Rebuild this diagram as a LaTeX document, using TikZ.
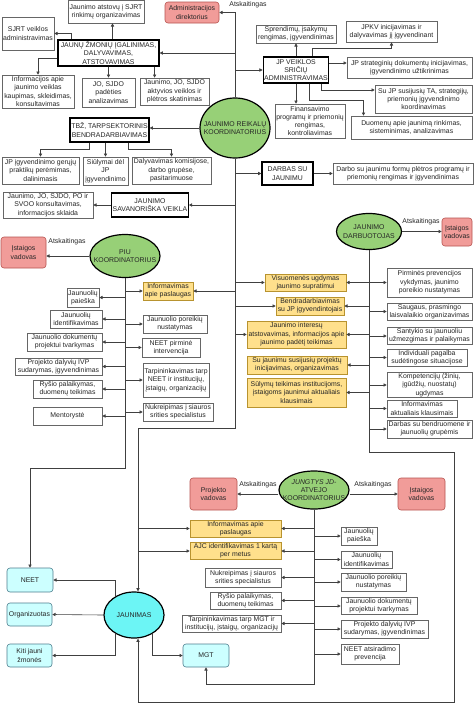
\documentclass[tikz,border=0pt]{standalone}
\usepackage{fontspec}
\setmainfont{Liberation Sans}
\usetikzlibrary{shapes.geometric,arrows.meta,calc}
\definecolor{grnF}{HTML}{97D077}
\definecolor{yelF}{HTML}{FFE08C}
\definecolor{yelB}{HTML}{B8932F}
\definecolor{pinkF}{HTML}{F19C99}
\definecolor{pinkB}{HTML}{B85450}
\definecolor{cyF}{HTML}{CCFFFF}
\definecolor{cyB}{HTML}{4F7F8F}
\definecolor{cyE}{HTML}{6CF5F5}
\newcommand{\bxn}[7]{\node[#1, minimum width={(#4)-(#3)}, minimum height={(#6)-(#5)}] (#2) at ({((#3)+(#4))/2},{((#5)+(#6))/2}) {#7};}
\newcommand{\eln}[6]{\node[#1, minimum width=#4, minimum height=#5, label={[lbl]center:{#6}}] (#2) at (#3) {};}
\tikzset{
 base/.style={font=\fontsize{6.9}{8.3}\selectfont, align=center, inner sep=1pt, text=black!85},
 wb/.style={base, draw=black!60, fill=white, line width=0.6pt},
 tb/.style={base, draw=black, fill=white, line width=1.2pt},
 yb/.style={base, draw=yelB, fill=yelF, line width=0.6pt},
 pb/.style={base, draw=pinkB, fill=pinkF, rounded corners=3pt, line width=0.6pt},
 cb/.style={base, draw=cyB, fill=cyF, rounded corners=3pt, line width=0.6pt},
 ge/.style={ellipse, draw=black, fill=grnF, line width=1.2pt, inner sep=0pt},
 ce/.style={ellipse, draw=black, fill=cyE, line width=1.2pt, inner sep=0pt},
 lbl/.style={base, inner sep=0pt},
 arr/.style={draw=black!75, line width=0.6pt, -{Triangle[length=3.2pt,width=3.2pt]}},
}
\begin{document}
\begin{tikzpicture}[x=1pt,y=-1pt]
\useasboundingbox[fill=white] (0,0) rectangle (474,707);
% ---------- top left
\bxn{wb}{n_atst}{68}{144}{0.5}{23}{Jaunimo atstovų į SJRT\\rinkimų organizavimas}
\bxn{pb}{n_adm}{165}{219}{2}{23}{Administracijos\\direktorius}
\bxn{wb}{n_sjrt}{2}{54}{17}{50}{SJRT veiklos\\administravimas}
\bxn{tb}{n_jz}{58}{159}{40}{66}{JAUNŲ ŽMONIŲ ĮGALINIMAS,\\DALYVAVIMAS,\\ATSTOVAVIMAS}
\bxn{wb}{n_info}{2}{74}{75}{108}{Informacijos apie\\jaunimo veiklas\\kaupimas, skleidimas,\\konsultavimas}
\bxn{wb}{n_jo}{82}{135}{78}{107}{JO, SJDO\\padėties\\analizavimas}
\bxn{wb}{n_akt}{140}{209}{78}{105}{Jaunimo, JO, SJDO\\aktyvios veiklos ir\\plėtros skatinimas}
% ---------- top right
\bxn{wb}{n_spr}{256}{336}{25}{43}{Sprendimų, įsakymų\\rengimas, įgyvendinimas}
\bxn{wb}{n_jpkv}{346}{437}{21}{42}{JPKV inicijavimas ir\\dalyvavimas jį įgyvendinant}
\bxn{tb}{n_jpv}{264}{328}{57}{83}{JP VEIKLOS\\SRIČIŲ\\ADMINISTRAVIMAS}
\bxn{wb}{n_str}{347}{472}{57}{78}{JP strateginių dokumentų inicijavimas,\\įgyvendinimo užtikrinimas}
\bxn{wb}{n_ta}{375}{472}{85}{113}{Su JP susijusių TA, strategijų,\\priemonių įgyvendinimo\\koordinavimas}
\bxn{wb}{n_fin}{275}{345}{104}{138}{Finansavimo\\programų ir priemonių\\rengimas,\\kontroliavimas}
\bxn{wb}{n_duom}{351}{472}{116}{139}{Duomenų apie jaunimą rinkimas,\\sisteminimas, analizavimas}
% ---------- main coordinator
\eln{ge}{n_jrk}{235,128}{70}{60}{JAUNIMO REIKALŲ\\KOORDINATORIUS}
\bxn{tb}{n_tbz}{70}{149}{118}{142}{TBŽ, TARPSEKTORINIS\\BENDRADARBIAVIMAS}
\bxn{wb}{n_gp}{2}{79}{157}{184}{JP įgyvendinimo gerųjų\\praktikų perėmimas,\\dalinimasis}
\bxn{wb}{n_sul}{83}{128}{157}{185}{Siūlymai dėl\\JP\\įgyvendinimo}
\bxn{wb}{n_dal}{132}{211}{157}{184}{Dalyvavimas komisijose,\\darbo grupėse,\\pasitarimuose}
\bxn{tb}{n_sav}{112}{188}{193}{217}{JAUNIMO\\SAVANORIŠKA VEIKLA}
\bxn{wb}{n_kons}{3}{93}{192}{218}{Jaunimo, JO, SJDO, PO ir\\SVOO konsultavimas,\\informacijos sklaida}
\bxn{tb}{n_dsj}{262}{313}{162}{185}{DARBAS SU\\JAUNIMU}
\bxn{wb}{n_dform}{333}{473}{163}{184}{Darbo su jaunimu formų plėtros programų ir\\priemonių rengimas ir įgyvendinimas}
% ---------- PIU
\bxn{pb}{n_iv1}{1}{46}{237}{268}{Įstaigos\\vadovas}
\eln{ge}{n_piu}{125,256}{70}{43}{PIU\\KOORDINATORIUS}
\bxn{yb}{n_pinf}{143}{193}{282}{300}{Informavimas\\apie paslaugas}
\bxn{wb}{n_pp}{67}{99}{288}{307}{Jaunuolių\\paieška}
\bxn{wb}{n_pid}{50}{102}{310}{328}{Jaunuolių\\identifikavimas}
\bxn{wb}{n_pdok}{27}{102}{333}{351}{Jaunuolio dokumentų\\projektui tvarkymas}
\bxn{wb}{n_pivp}{15}{102}{358}{375}{Projekto dalyvių IVP\\sudarymas, įgyvendinimas}
\bxn{wb}{n_prys}{33}{102}{380}{398}{Ryšio palaikymas,\\duomenų teikimas}
\bxn{wb}{n_pment}{33}{102}{407}{425}{Mentorystė}
\bxn{wb}{n_ppor}{143}{207}{315}{333}{Jaunuolio poreikių\\nustatymas}
\bxn{wb}{n_pneet}{142}{200}{338}{357}{NEET pirminė\\intervencija}
\bxn{wb}{n_ptarp}{143}{209}{363}{397}{Tarpininkavimas tarp\\NEET ir institucijų,\\įstaigų, organizacijų}
\bxn{wb}{n_pnukr}{143}{213}{403}{421}{Nukreipimas į siauros\\srities specialistus}
% ---------- yellow middle
\bxn{yb}{n_y1}{265}{346}{274}{291}{Visuomenės ugdymas\\jaunimo supratimui}
\bxn{yb}{n_y2}{276}{344}{297}{315}{Bendradarbiavimas\\su JP įgyvendintojais}
\bxn{yb}{n_y3}{247}{346}{321}{348}{Jaunimo interesų\\atstovavimas, informacijos apie\\jaunimo padėtį teikimas}
\bxn{yb}{n_y4}{247}{347}{356}{374}{Su jaunimu susijusių projektų\\inicijavimas, organizavimas}
\bxn{yb}{n_y5}{247}{346}{378}{407}{Sūlymų teikimas institucijoms,\\įstaigoms jaunimui aktualiais\\klausimais}
% ---------- darbuotojas
\eln{ge}{n_jd}{369,231.5}{65}{36}{JAUNIMO\\DARBUOTOJAS}
\bxn{pb}{n_iv2}{442}{472}{218}{246}{Įstaigos\\vadovas}
\bxn{wb}{n_d1}{387}{472}{268}{297}{Pirminės prevencijos\\vykdymas, jaunimo\\poreikio nustatymas}
\bxn{wb}{n_d2}{387}{472}{303}{320}{Saugaus, prasmingo\\laisvalaikio organizavimas}
\bxn{wb}{n_d3}{387}{472}{328}{344}{Santykio su jaunuoliu\\užmezgimas ir palaikymas}
\bxn{wb}{n_d4}{387}{467}{350}{365}{Individuali pagalba\\sudėtingose situacijose}
\bxn{wb}{n_d5}{387}{472}{373}{397}{Kompetencijų (žinių,\\įgūdžių, nuostatų)\\ugdymas}
\bxn{wb}{n_d6}{387}{457}{400}{417}{Informavimas\\aktualiais klausimais}
\bxn{wb}{n_d7}{387}{472}{420}{438}{Darbas su bendruomene ir\\jaunuolių grupėmis}
% ---------- jungtys
\eln{ge}{n_jung}{314,490}{70}{38}{\textit{JUNGTYS JD-}\\ATVEJO\\KOORDINATORIUS}
\bxn{pb}{n_pv}{190}{237}{478}{510}{Projekto\\vadovas}
\bxn{pb}{n_iv3}{398}{445}{478}{510}{Įstaigos\\vadovas}
\bxn{yb}{n_jinf}{190}{281}{520}{537}{Informavimas apie\\paslaugas}
\bxn{yb}{n_jajc}{190}{281}{543}{559}{AJC identifikavimas 1 kartą\\per metus}
\bxn{wb}{n_jnukr}{205}{281}{568}{587}{Nukreipimas į siauros\\srities specialistus}
\bxn{wb}{n_jrys}{210}{281}{592}{609}{Ryšio palaikymas,\\duomenų teikimas}
\bxn{wb}{n_jtarp}{182}{281}{615}{632}{Tarpininkavimas tarp MGT ir\\institucijų, įstaigų, organizacijų}
\bxn{wb}{n_jp}{341}{377}{527}{545}{Jaunuolių\\paieška}
\bxn{wb}{n_jid}{341}{392}{551}{568}{Jaunuolių\\identifikavimas}
\bxn{wb}{n_jpor}{341}{406}{573}{591}{Jaunuolio poreikių\\nustatymas}
\bxn{wb}{n_jdok}{341}{417}{598}{614}{Jaunuolio dokumentų\\projektui tvarkymas}
\bxn{wb}{n_jivp}{341}{428}{620}{638}{Projekto dalyvių IVP\\sudarymas, įgyvendinimas}
\bxn{wb}{n_jneet}{341}{399}{644}{664}{NEET atsiradimo\\prevencija}
% ---------- jaunimas
\bxn{cb}{n_neet}{7}{53}{568}{592}{NEET}
\bxn{cb}{n_org}{7}{52}{603}{626}{Organizuotas}
\bxn{cb}{n_kiti}{7}{52}{644}{667}{Kiti jauni\\žmonės}
\eln{ce}{n_jaun}{134,615}{60}{46}{JAUNIMAS}
\bxn{cb}{n_mgt}{183}{229}{644}{667}{MGT}
% ---------- labels
\node[lbl] (l_a1) at (248,5) {Atskaitingas};
\node[lbl] (l_a2) at (67,242) {Atskaitingas};
\node[lbl] (l_a3) at (421,222) {Atskaitingas};
\node[lbl] (l_a4) at (258,485) {Atskaitingas};
\node[lbl] (l_a5) at (373,485) {Atskaitingas};
% ---------- coordinates
\coordinate (mx) at (235,0);
\coordinate (mbot) at (235,428);
\coordinate (mleft) at (138,428);
\coordinate (pc) at (30,468);
\coordinate (dc1) at (369,452);
\coordinate (dc2) at (454,452);
\coordinate (dc3) at (454,702);
\coordinate (dc4) at (138,702);
\coordinate (jc) at (314,684);
% ---------- main trunk
\draw[arr] (n_jrk.north) |- (n_adm.east);
\draw[arr] (n_jrk.south) -- (mbot) -- (mleft) -- (mleft |- n_jaun.north);
\draw[arr] (n_jz.east -| mx) -- (n_jz.east);
\draw[arr] (n_jpv.west -| mx) -- (n_jpv.west);
\draw[arr] (n_jrk.west) -- (n_jrk.west -| n_tbz.east);
\draw[arr] (n_dsj.west -| mx) -- (n_dsj.west);
\draw[arr] (n_dsj.east) -- (n_dform.west);
\draw[arr] (n_sav.east -| mx) -- (n_sav.east);
\draw[arr] (n_sav.west) -- (n_sav.west -| n_kons.east);
\draw[arr] (n_pinf.east -| mx) -- (n_pinf.east);
\draw[arr] (n_y1.west -| mx) -- (n_y1.west);
\draw[arr] (n_y2.west -| mx) -- (n_y2.west);
\draw[arr] (n_y3.west -| mx) -- (n_y3.west);
\draw[arr] (n_jinf.west -| mleft) -- (n_jinf.west);
\draw[arr] (n_jajc.west -| mleft) -- (n_jajc.west);
% ---------- JZ branches
\draw[arr] ([xshift=4pt]n_jz.north) -- ([xshift=4pt]n_jz.north |- n_atst.south);
\draw[arr] ([xshift=14pt]n_jz.north west) |- (n_sjrt.east);
\draw[arr] ([yshift=-5pt]n_jz.west) -| (n_info.north);
\draw[arr] (n_jz.south) -- (n_jz.south |- n_jo.north);
\draw[arr] ([xshift=-5pt]n_jz.south east) -- ([xshift=-5pt]n_jz.south east |- n_akt.north);
% ---------- JPV branches
\draw[arr] (n_jpv.north) -- (n_jpv.north |- n_spr.south);
\draw[arr] ([xshift=16pt]n_jpv.north) -- ++(0,-8) -| (n_jpkv.south);
\draw[arr] ([yshift=7pt]n_jpv.east) -- ([yshift=7pt]n_jpv.east -| n_str.west);
\draw[arr] ([xshift=-8pt]n_jpv.south east) |- ([yshift=9pt]n_ta.west);
\draw[arr] (n_jpv.south) -- (n_jpv.south |- n_fin.north);
\draw[arr] ([xshift=13pt]n_jpv.south) -- ++(0,17) -| ([xshift=-48pt]n_duom.north);
% ---------- TBZ branches
\draw[arr] ([xshift=-20pt]n_tbz.south) -- ++(0,7) -| (n_gp.north);
\draw[arr] (n_tbz.south -| n_sul.north) -- (n_sul.north);
\draw[arr] ([xshift=19pt]n_tbz.south) -- ++(0,7) -| (n_dal.north);
% ---------- PIU
\draw[arr] (n_piu.west) -- (n_piu.west -| n_iv1.east);
\draw[arr] (n_piu.south) |- (pc) -- (n_neet.north);
\foreach \n in {n_pp,n_pid,n_pdok,n_pivp,n_prys,n_pment}
  \draw[arr] (\n.east -| n_piu.south) -- (\n.east);
\foreach \n in {n_pinf,n_ppor,n_pneet,n_ptarp,n_pnukr}
  \draw[arr] (\n.west -| n_piu.south) -- (\n.west);
% ---------- Darbuotojas
\draw[arr] (n_jd.east) -- (n_jd.east -| n_iv2.west);
\draw[arr] (n_jd.south) -- (dc1) -- (dc2) -- (dc3) -- (dc4) -- (dc4 |- n_jaun.south);
\foreach \n in {n_y1,n_y2,n_y3,n_y4,n_y5}
  \draw[arr] (\n.east -| n_jd.south) -- (\n.east);
\foreach \n in {n_d1,n_d2,n_d3,n_d4,n_d5,n_d6,n_d7}
  \draw[arr] (\n.west -| n_jd.south) -- (\n.west);
% ---------- Jungtys
\draw[arr] (n_jung.west |- n_pv.east) -- (n_pv.east);
\draw[arr] (n_jung.east |- n_iv3.west) -- (n_iv3.west);
\draw[arr] (n_jung.south) -- (jc) -| (n_mgt.south);
\foreach \n in {n_jinf,n_jajc,n_jnukr,n_jrys,n_jtarp}
  \draw[arr] (\n.east -| n_jung.south) -- (\n.east);
\foreach \n in {n_jp,n_jid,n_jpor,n_jdok,n_jivp,n_jneet}
  \draw[arr] (\n.west -| n_jung.south) -- (\n.west);
% ---------- Jaunimas
\draw[arr] (n_jaun.135) |- (n_neet.east);
\draw[arr] (n_jaun.west) -- (n_org.east);
\draw[arr] (n_jaun.225) |- (n_kiti.east);
\draw[arr] (n_jaun.-45) |- (n_mgt.west);
\end{tikzpicture}
\end{document}
